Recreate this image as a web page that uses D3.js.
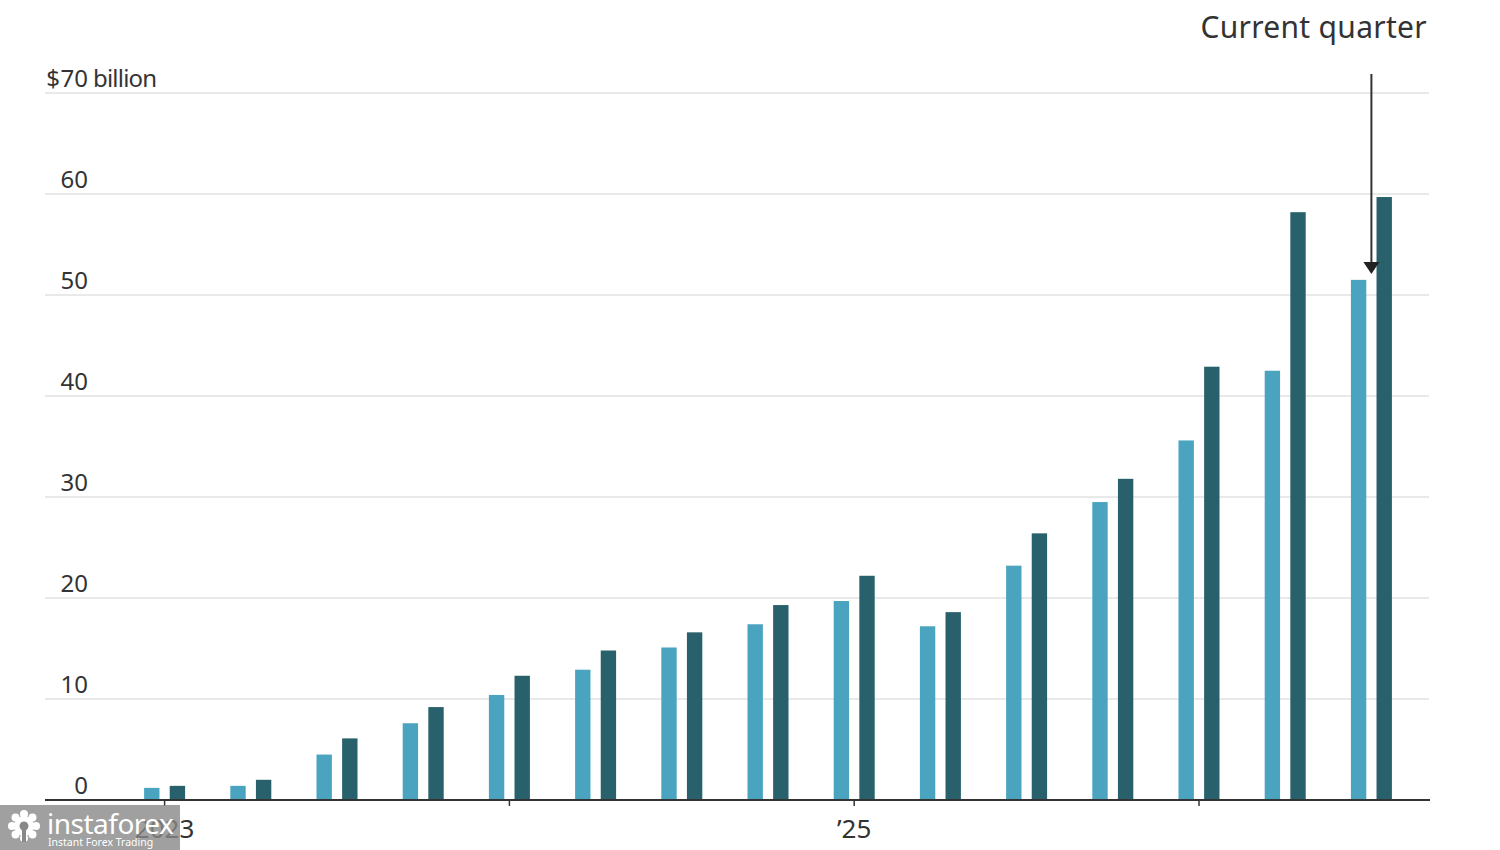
<!DOCTYPE html>
<html>
<head>
<meta charset="utf-8">
<script src="https://cdn.jsdelivr.net/npm/d3@7"></script>
<style>
  body { margin: 0; background: #fff; }
  svg { display: block; font-family: "Noto Sans", sans-serif; }
</style>
</head>
<body>
<div id="chart"></div>
<script>
// Quarterly values, $ billion
const quarters = ["Q1 23", "Q2 23", "Q3 23", "Q4 23", "Q1 24", "Q2 24", "Q3 24", "Q4 24",
                  "Q1 25", "Q2 25", "Q3 25", "Q4 25", "Q1 26", "Q2 26", "Q3 26"];
const lightValues = [1.2, 1.4, 4.5, 7.6, 10.4, 12.9, 15.1, 17.4, 19.7, 17.2, 23.2, 29.5, 35.6, 42.5, 51.5];
const darkValues  = [1.4, 2.0, 6.1, 9.2, 12.3, 14.8, 16.6, 19.3, 22.2, 18.6, 26.4, 31.8, 42.9, 58.2, 59.7];
const series = ["light", "dark"];
const yTicks = [0, 10, 20, 30, 40, 50, 60, 70];
const xTickQuarters = ["Q1 23", "Q1 24", "Q1 25", "Q1 26"];
const xTickLabels = ["2023", "", "\u201925", ""];
const currentQuarter = "Q3 26";

const width = 1500;
const height = 850;
const colors = { light: "#4aa3bf", dark: "#28606b" };

const svg = d3.select("#chart")
    .append("svg")
    .attr("width", width)
    .attr("height", height);

const y = d3.scaleLinear().domain([0, 70]).range([800, 93]);

// Outer band: one slot per quarter
const x0 = d3.scaleBand()
    .domain(quarters)
    .range([121.5, 1414.5]);

// Inner band: the two bars inside each quarter
const x1 = d3.scaleBand()
    .domain(series)
    .range([-20.5, 20.5])
    .paddingInner(0.4);

// Gridlines
svg.append("g")
    .selectAll("line")
    .data(yTicks.filter(d => d > 0))
    .enter().append("line")
    .attr("x1", 45)
    .attr("x2", 1429)
    .attr("y1", d => y(d))
    .attr("y2", d => y(d))
    .attr("stroke", "#e2e2e2")
    .attr("stroke-width", 1.5);

// Y labels, numbers right-aligned, top one gets $ and unit
const yLabels = svg.append("g")
    .attr("font-size", "24px")
    .attr("fill", "#333");

yLabels.selectAll("text.num")
    .data(yTicks)
    .enter().append("text")
    .attr("class", "num")
    .attr("x", 88)
    .attr("y", d => y(d) - 6)
    .attr("text-anchor", "end")
    .text(d => d);

yLabels.append("text")
    .attr("x", 60)
    .attr("y", y(70) - 6)
    .attr("text-anchor", "end")
    .text("$");

yLabels.append("text")
    .attr("x", 93)
    .attr("y", y(70) - 6)
    .attr("letter-spacing", "-0.8px")
    .text("billion");

// Bars
const data = quarters.map((q, i) => ({ q, light: lightValues[i], dark: darkValues[i] }));

const groups = svg.append("g")
    .selectAll("g")
    .data(data)
    .enter().append("g")
    .attr("transform", d => `translate(${x0(d.q) + x0.bandwidth() / 2},0)`);

groups.selectAll("rect")
    .data(d => series.map(s => ({ s, v: d[s] })))
    .enter().append("rect")
    .attr("x", d => x1(d.s))
    .attr("width", x1.bandwidth())
    .attr("y", d => y(d.v))
    .attr("height", d => y(0) - y(d.v))
    .attr("fill", d => colors[d.s]);

// X axis
const xAxis = d3.axisBottom(x0)
    .tickValues(xTickQuarters)
    .tickSize(6)
    .tickFormat((d, i) => xTickLabels[i]);

const gx = svg.append("g")
    .attr("transform", `translate(0,${y(0)})`)
    .call(xAxis);

gx.select(".domain").remove();
gx.selectAll(".tick line").attr("stroke", "#333").attr("stroke-width", 1.5);
gx.selectAll(".tick text")
    .attr("y", 20)
    .attr("font-family", "Noto Sans, sans-serif")
    .attr("font-size", "26px")
    .attr("fill", "#333");

svg.append("line")
    .attr("x1", 45)
    .attr("x2", 1430)
    .attr("y1", y(0))
    .attr("y2", y(0))
    .attr("stroke", "#333")
    .attr("stroke-width", 2);

// Current quarter annotation
const ax = x0(currentQuarter) + x0.bandwidth() / 2;
const tipY = 274;

svg.append("text")
    .attr("x", 1427)
    .attr("y", 38)
    .attr("text-anchor", "end")
    .attr("font-size", "30px")
    .attr("letter-spacing", "0.3px")
    .attr("fill", "#333")
    .text("Current quarter");

svg.append("line")
    .attr("x1", ax).attr("x2", ax)
    .attr("y1", 74).attr("y2", tipY - 10)
    .attr("stroke", "#333")
    .attr("stroke-width", 2);

svg.append("path")
    .attr("d", `M${ax - 8},${tipY - 12} L${ax + 8},${tipY - 12} L${ax},${tipY} Z`)
    .attr("fill", "#222");

// Watermark box in the lower left corner (label shows through it)
const wm = svg.append("g");
wm.append("rect")
    .attr("x", 0).attr("y", 805)
    .attr("width", 180).attr("height", 45)
    .attr("fill", "#888")
    .attr("opacity", 0.8);

const gear = wm.append("g").attr("transform", "translate(24,826)");
d3.range(8).forEach(k => {
    const a = k * Math.PI / 4;
    gear.append("circle")
        .attr("cx", Math.cos(a) * 12)
        .attr("cy", Math.sin(a) * 12)
        .attr("r", 4)
        .attr("fill", "#fff");
});
gear.append("circle").attr("r", 10).attr("fill", "#fff");
gear.append("circle").attr("r", 4.5).attr("fill", "#888");
gear.append("rect").attr("x", -2).attr("y", 2).attr("width", 4).attr("height", 14).attr("fill", "#888");

wm.append("text")
    .attr("x", 47).attr("y", 834)
    .attr("font-size", "28px")
    .attr("fill", "#fff")
    .attr("letter-spacing", "-0.5px")
    .text("instaforex");

wm.append("text")
    .attr("x", 48).attr("y", 846)
    .attr("font-size", "10.5px")
    .attr("fill", "#fff")
    .text("Instant Forex Trading");
</script>
</body>
</html>
